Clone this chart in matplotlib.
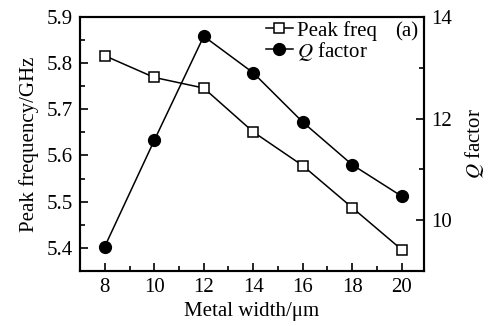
import matplotlib
matplotlib.use("Agg")
import matplotlib.pyplot as plt
from matplotlib.ticker import MultipleLocator

plt.rcParams["font.family"] = "Liberation Serif"
plt.rcParams["mathtext.fontset"] = "stix"
plt.rcParams["font.size"] = 15

# data
width = [8, 10, 12, 14, 16, 18, 20]
peak_freq = [5.816, 5.769, 5.746, 5.651, 5.578, 5.487, 5.396]
q_factor = [9.48, 11.57, 13.62, 12.90, 11.93, 11.09, 10.47]

fig = plt.figure(figsize=(4.91, 3.26), dpi=100)
ax = fig.add_axes([0.163, 0.169, 0.7005, 0.779])
ax2 = ax.twinx()

l1, = ax.plot(width, peak_freq, color="black", lw=1.1, marker="s", ms=7,
              mfc="white", mec="black", mew=1.1, label="Peak freq")
l2, = ax2.plot(width, q_factor, color="black", lw=1.1, marker="o", ms=8.5,
               mfc="black", mec="black", label="$Q$ factor")

ax.set_xlim(7, 20.9)
ax.set_ylim(5.35, 5.9)
ax2.set_ylim(9, 14)

ax.xaxis.set_major_locator(MultipleLocator(2))
ax.xaxis.set_minor_locator(MultipleLocator(1))
ax.yaxis.set_major_locator(MultipleLocator(0.1))
ax.yaxis.set_minor_locator(MultipleLocator(0.05))
ax2.yaxis.set_major_locator(MultipleLocator(2))
ax2.yaxis.set_minor_locator(MultipleLocator(1))

for a in (ax, ax2):
    a.tick_params(which="major", direction="in", length=6, width=1.2, pad=5)
    a.tick_params(which="minor", direction="in", length=3.5, width=1.2)
    for s in a.spines.values():
        s.set_linewidth(1.5)
ax.tick_params(axis="x", which="both", top=False)
ax.tick_params(axis="y", which="both", right=False)

ax.set_xlabel("Metal width/μm", labelpad=4)
ax.set_ylabel("Peak frequency/GHz", labelpad=6)
ax2.set_ylabel("$Q$ factor", labelpad=8)

ax.legend(handles=[l1, l2], loc="upper left", bbox_to_anchor=(0.54, 0.985),
          frameon=False, handlelength=1.3, handletextpad=0.2,
          labelspacing=-0.05, borderaxespad=0, borderpad=0)
ax.text(0.983, 0.94, "(a)", transform=ax.transAxes, ha="right", va="center")

fig.savefig("out.png", dpi=100)
